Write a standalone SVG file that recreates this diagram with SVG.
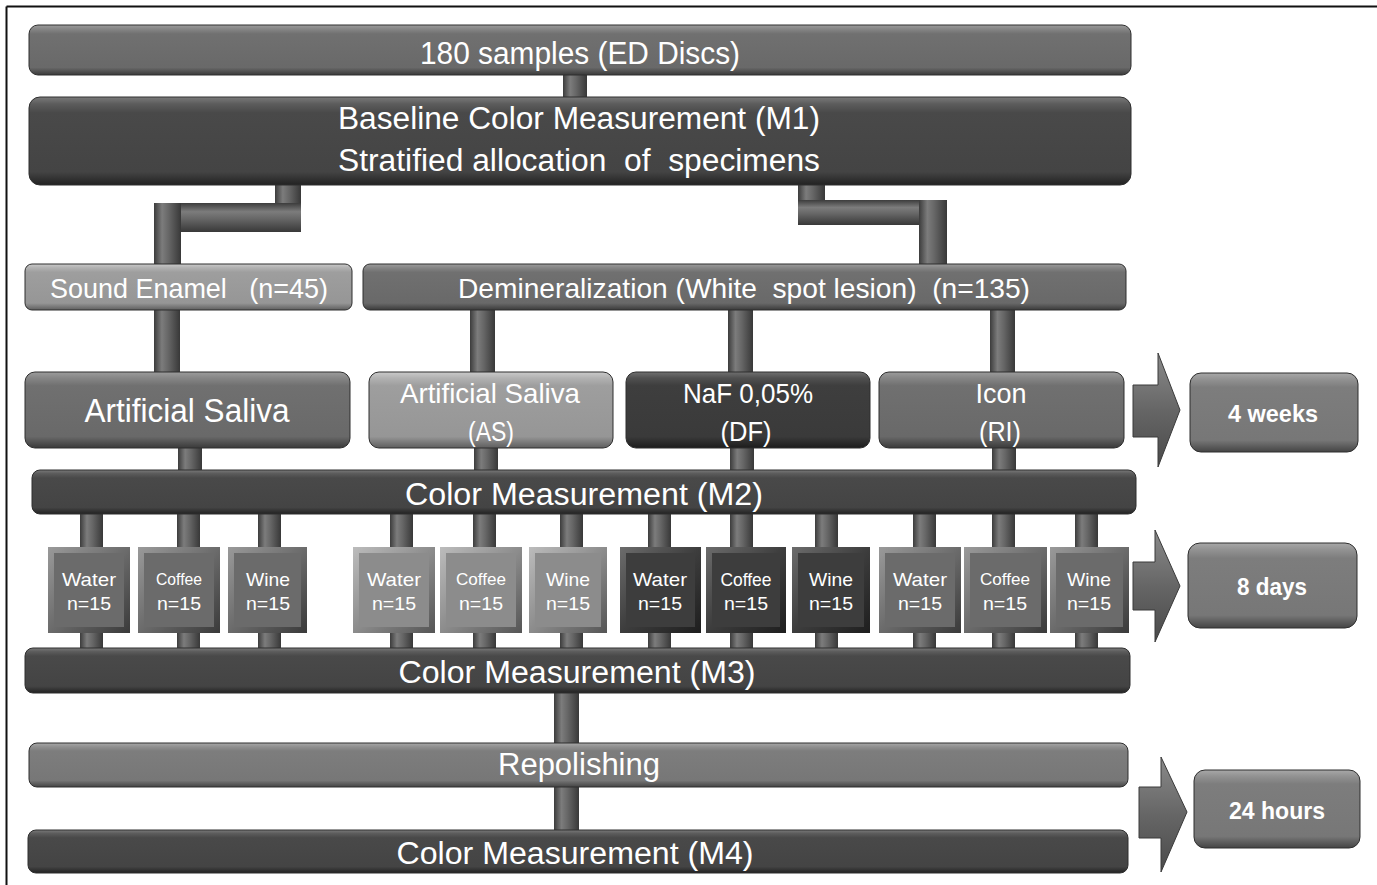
<svg xmlns="http://www.w3.org/2000/svg" width="1377" height="885" viewBox="0 0 1377 885">
<style>
text{font-family:"Liberation Sans",Arial,sans-serif;fill:#ffffff;text-anchor:middle;white-space:pre}
.big{font-size:31px}
.mid{font-size:28px}
.sm{font-size:19px}
.xs{font-size:16px}
.bold{font-size:24px;font-weight:bold}
.bar{stroke:#2e2e2e;stroke-width:1}
.pipe{fill:url(#gPipe)}
.pipeH{fill:url(#gPipeH)}
.arrow{fill:url(#gArrow);stroke:#3a3a3a;stroke-width:1}
</style>
<defs>
<linearGradient id="gMid" x1="0" y1="0" x2="0" y2="1">
<stop offset="0" stop-color="#9c9c9c"/><stop offset="0.08" stop-color="#868686"/><stop offset="0.18" stop-color="#707070"/><stop offset="0.85" stop-color="#696969"/><stop offset="1" stop-color="#3a3a3a"/>
</linearGradient>
<linearGradient id="gDark" x1="0" y1="0" x2="0" y2="1">
<stop offset="0" stop-color="#7a7a7a"/><stop offset="0.08" stop-color="#5c5c5c"/><stop offset="0.18" stop-color="#494949"/><stop offset="0.85" stop-color="#444444"/><stop offset="1" stop-color="#222222"/>
</linearGradient>
<linearGradient id="gDarker" x1="0" y1="0" x2="0" y2="1">
<stop offset="0" stop-color="#707070"/><stop offset="0.08" stop-color="#505050"/><stop offset="0.18" stop-color="#3e3e3e"/><stop offset="0.85" stop-color="#3a3a3a"/><stop offset="1" stop-color="#1c1c1c"/>
</linearGradient>
<linearGradient id="gLight" x1="0" y1="0" x2="0" y2="1">
<stop offset="0" stop-color="#cacaca"/><stop offset="0.08" stop-color="#b2b2b2"/><stop offset="0.18" stop-color="#9e9e9e"/><stop offset="0.85" stop-color="#969696"/><stop offset="1" stop-color="#5e5e5e"/>
</linearGradient>
<linearGradient id="gRep" x1="0" y1="0" x2="0" y2="1">
<stop offset="0" stop-color="#a8a8a8"/><stop offset="0.08" stop-color="#929292"/><stop offset="0.18" stop-color="#7d7d7d"/><stop offset="0.85" stop-color="#777777"/><stop offset="1" stop-color="#444444"/>
</linearGradient>
<linearGradient id="gPipe" x1="0" y1="0" x2="1" y2="0">
<stop offset="0" stop-color="#3c3c3c"/><stop offset="0.3" stop-color="#7c7c7c"/><stop offset="0.55" stop-color="#666666"/><stop offset="1" stop-color="#383838"/>
</linearGradient>
<linearGradient id="gPipeH" x1="0" y1="0" x2="0" y2="1">
<stop offset="0" stop-color="#3c3c3c"/><stop offset="0.3" stop-color="#7c7c7c"/><stop offset="0.55" stop-color="#666666"/><stop offset="1" stop-color="#383838"/>
</linearGradient>
<linearGradient id="gArrow" x1="0" y1="0" x2="0" y2="1">
<stop offset="0" stop-color="#8a8a8a"/><stop offset="0.5" stop-color="#666666"/><stop offset="1" stop-color="#4a4a4a"/>
</linearGradient>
<linearGradient id="bvMid" x1="0" y1="0" x2="1" y2="1">
<stop offset="0" stop-color="#9a9a9a"/><stop offset="0.5" stop-color="#6b6b6b"/><stop offset="1" stop-color="#3a3a3a"/>
</linearGradient>
<linearGradient id="bvLight" x1="0" y1="0" x2="1" y2="1">
<stop offset="0" stop-color="#bcbcbc"/><stop offset="0.5" stop-color="#8c8c8c"/><stop offset="1" stop-color="#555555"/>
</linearGradient>
<linearGradient id="bvDark" x1="0" y1="0" x2="1" y2="1">
<stop offset="0" stop-color="#6c6c6c"/><stop offset="0.5" stop-color="#3d3d3d"/><stop offset="1" stop-color="#1e1e1e"/>
</linearGradient>
</defs>
<rect width="1377" height="885" fill="#ffffff"/>
<line x1="6.5" y1="6.5" x2="1377" y2="6.5" stroke="#111" stroke-width="2"/>
<line x1="6.5" y1="6.5" x2="6.5" y2="885" stroke="#111" stroke-width="2"/>

<g id="connectors">
<rect class="pipe" x="563" y="74" width="24" height="25"/>
<rect class="pipe" x="275" y="184" width="26" height="48"/>
<rect class="pipeH" x="154" y="203" width="147" height="29"/>
<rect class="pipe" x="154" y="203" width="27" height="62"/>
<rect class="pipe" x="798" y="184" width="27" height="41"/>
<rect class="pipeH" x="798" y="200" width="149" height="25"/>
<rect class="pipe" x="919" y="200" width="28" height="65"/>
<rect class="pipe" x="154" y="309" width="26" height="64"/>
<rect class="pipe" x="470" y="309" width="25" height="64"/>
<rect class="pipe" x="728" y="309" width="25" height="64"/>
<rect class="pipe" x="990" y="309" width="25" height="64"/>
<rect class="pipe" x="178" y="447" width="24" height="24"/>
<rect class="pipe" x="474" y="447" width="24" height="24"/>
<rect class="pipe" x="730" y="447" width="24" height="24"/>
<rect class="pipe" x="992" y="447" width="24" height="24"/>
<rect class="pipe" x="80" y="513" width="23" height="136"/>
<rect class="pipe" x="177" y="513" width="23" height="136"/>
<rect class="pipe" x="258" y="513" width="23" height="136"/>
<rect class="pipe" x="390" y="513" width="23" height="136"/>
<rect class="pipe" x="473" y="513" width="23" height="136"/>
<rect class="pipe" x="560" y="513" width="23" height="136"/>
<rect class="pipe" x="648" y="513" width="23" height="136"/>
<rect class="pipe" x="730" y="513" width="23" height="136"/>
<rect class="pipe" x="815" y="513" width="23" height="136"/>
<rect class="pipe" x="913" y="513" width="23" height="136"/>
<rect class="pipe" x="992" y="513" width="23" height="136"/>
<rect class="pipe" x="1075" y="513" width="23" height="136"/>
<rect class="pipe" x="554" y="692" width="25" height="52"/>
<rect class="pipe" x="554" y="786" width="25" height="45"/>
<polygon class="arrow" points="1133,385 1158,385 1158,353 1180,410 1158,467 1158,437 1133,437"/>
<polygon class="arrow" points="1133,562 1155,562 1155,530 1180,586 1155,642 1155,610 1133,610"/>
<polygon class="arrow" points="1139,787 1161,787 1161,757 1187,812 1161,872 1161,838 1139,838"/>
</g>

<g id="samples">
<rect class="bar" x="29" y="25" width="1102" height="50" rx="9" fill="url(#gMid)"/>
<text class="big" x="580" y="64" textLength="320" lengthAdjust="spacingAndGlyphs">180 samples (ED Discs)</text>
</g>
<g id="baseline">
<rect class="bar" x="29" y="97" width="1102" height="88" rx="11" fill="url(#gDark)"/>
<text class="big" x="579" y="129" textLength="482" lengthAdjust="spacingAndGlyphs">Baseline Color Measurement (M1)</text>
<text class="big" x="579" y="171" textLength="482" lengthAdjust="spacingAndGlyphs">Stratified allocation  of  specimens</text>
</g>
<g id="sound-enamel">
<rect class="bar" x="25" y="264" width="327" height="46" rx="7" fill="url(#gLight)"/>
<text class="mid" x="189" y="298" textLength="278" lengthAdjust="spacingAndGlyphs">Sound Enamel   (n=45)</text>
</g>
<g id="demineralization">
<rect class="bar" x="363" y="264" width="763" height="46" rx="7" fill="url(#gMid)"/>
<text class="mid" x="744" y="298" textLength="572" lengthAdjust="spacingAndGlyphs">Demineralization (White  spot lesion)  (n=135)</text>
</g>
<g id="artificial-saliva-se">
<rect class="bar" x="25" y="372" width="325" height="76" rx="10" fill="url(#gMid)"/>
<text x="187" y="422" style="font-size:33px" textLength="205" lengthAdjust="spacingAndGlyphs">Artificial Saliva</text>
</g>
<g id="artificial-saliva-as">
<rect class="bar" x="369" y="372" width="244" height="76" rx="10" fill="url(#gLight)"/>
<text class="mid" x="490" y="403" textLength="180" lengthAdjust="spacingAndGlyphs">Artificial Saliva</text>
<text class="mid" x="491" y="441" textLength="46" lengthAdjust="spacingAndGlyphs">(AS)</text>
</g>
<g id="naf-df">
<rect class="bar" x="626" y="372" width="244" height="76" rx="10" fill="url(#gDarker)"/>
<text class="mid" x="748" y="403" textLength="130" lengthAdjust="spacingAndGlyphs">NaF 0,05%</text>
<text class="mid" x="746" y="441" textLength="51" lengthAdjust="spacingAndGlyphs">(DF)</text>
</g>
<g id="icon-ri">
<rect class="bar" x="879" y="372" width="245" height="76" rx="10" fill="url(#gMid)"/>
<text class="mid" x="1001" y="403" textLength="51" lengthAdjust="spacingAndGlyphs">Icon</text>
<text class="mid" x="1000" y="441" textLength="42" lengthAdjust="spacingAndGlyphs">(RI)</text>
</g>
<g id="weeks4">
<rect class="bar" x="1190" y="373" width="168" height="79" rx="11" fill="url(#gRep)"/>
<text class="bold" x="1273" y="422" textLength="90" lengthAdjust="spacingAndGlyphs">4 weeks</text>
</g>
<g id="m2">
<rect class="bar" x="32" y="470" width="1104" height="44" rx="8" fill="url(#gDark)"/>
<text class="big" x="584" y="505" textLength="358" lengthAdjust="spacingAndGlyphs">Color Measurement (M2)</text>
</g>

<g id="se-water"><rect x="48" y="547" width="82" height="86" fill="url(#bvMid)"/><rect x="54" y="553" width="70" height="74" fill="#6b6b6b"/>
<text class="sm" x="89" y="586" textLength="54" lengthAdjust="spacingAndGlyphs">Water</text><text class="sm" x="89" y="610" textLength="44" lengthAdjust="spacingAndGlyphs">n=15</text></g>
<g id="se-coffee"><rect x="138" y="547" width="82" height="86" fill="url(#bvMid)"/><rect x="144" y="553" width="70" height="74" fill="#6b6b6b"/>
<text class="xs" x="179" y="585" textLength="46" lengthAdjust="spacingAndGlyphs">Coffee</text><text class="sm" x="179" y="610" textLength="44" lengthAdjust="spacingAndGlyphs">n=15</text></g>
<g id="se-wine"><rect x="228" y="547" width="79" height="86" fill="url(#bvMid)"/><rect x="234" y="553" width="67" height="74" fill="#6b6b6b"/>
<text class="sm" x="268" y="586" textLength="44" lengthAdjust="spacingAndGlyphs">Wine</text><text class="sm" x="268" y="610" textLength="44" lengthAdjust="spacingAndGlyphs">n=15</text></g>

<g id="as-water"><rect x="353" y="547" width="82" height="86" fill="url(#bvLight)"/><rect x="359" y="553" width="70" height="74" fill="#8c8c8c"/>
<text class="sm" x="394" y="586" textLength="54" lengthAdjust="spacingAndGlyphs">Water</text><text class="sm" x="394" y="610" textLength="44" lengthAdjust="spacingAndGlyphs">n=15</text></g>
<g id="as-coffee"><rect x="440" y="547" width="82" height="86" fill="url(#bvLight)"/><rect x="446" y="553" width="70" height="74" fill="#8c8c8c"/>
<text class="xs" x="481" y="585" textLength="50" lengthAdjust="spacingAndGlyphs">Coffee</text><text class="sm" x="481" y="610" textLength="44" lengthAdjust="spacingAndGlyphs">n=15</text></g>
<g id="as-wine"><rect x="529" y="547" width="78" height="86" fill="url(#bvLight)"/><rect x="535" y="553" width="66" height="74" fill="#8c8c8c"/>
<text class="sm" x="568" y="586" textLength="44" lengthAdjust="spacingAndGlyphs">Wine</text><text class="sm" x="568" y="610" textLength="44" lengthAdjust="spacingAndGlyphs">n=15</text></g>

<g id="df-water"><rect x="620" y="547" width="81" height="86" fill="url(#bvDark)"/><rect x="626" y="553" width="69" height="74" fill="#3d3d3d"/>
<text class="sm" x="660" y="586" textLength="54" lengthAdjust="spacingAndGlyphs">Water</text><text class="sm" x="660" y="610" textLength="44" lengthAdjust="spacingAndGlyphs">n=15</text></g>
<g id="df-coffee"><rect x="706" y="547" width="80" height="86" fill="url(#bvDark)"/><rect x="712" y="553" width="68" height="74" fill="#3d3d3d"/>
<text class="sm" x="746" y="586" textLength="51" lengthAdjust="spacingAndGlyphs">Coffee</text><text class="sm" x="746" y="610" textLength="44" lengthAdjust="spacingAndGlyphs">n=15</text></g>
<g id="df-wine"><rect x="792" y="547" width="78" height="86" fill="url(#bvDark)"/><rect x="798" y="553" width="66" height="74" fill="#3d3d3d"/>
<text class="sm" x="831" y="586" textLength="44" lengthAdjust="spacingAndGlyphs">Wine</text><text class="sm" x="831" y="610" textLength="44" lengthAdjust="spacingAndGlyphs">n=15</text></g>

<g id="ri-water"><rect x="879" y="547" width="82" height="86" fill="url(#bvMid)"/><rect x="885" y="553" width="70" height="74" fill="#6b6b6b"/>
<text class="sm" x="920" y="586" textLength="54" lengthAdjust="spacingAndGlyphs">Water</text><text class="sm" x="920" y="610" textLength="44" lengthAdjust="spacingAndGlyphs">n=15</text></g>
<g id="ri-coffee"><rect x="964" y="547" width="83" height="86" fill="url(#bvMid)"/><rect x="970" y="553" width="71" height="74" fill="#6b6b6b"/>
<text class="xs" x="1005" y="585" textLength="50" lengthAdjust="spacingAndGlyphs">Coffee</text><text class="sm" x="1005" y="610" textLength="44" lengthAdjust="spacingAndGlyphs">n=15</text></g>
<g id="ri-wine"><rect x="1050" y="547" width="79" height="86" fill="url(#bvMid)"/><rect x="1056" y="553" width="67" height="74" fill="#6b6b6b"/>
<text class="sm" x="1089" y="586" textLength="44" lengthAdjust="spacingAndGlyphs">Wine</text><text class="sm" x="1089" y="610" textLength="44" lengthAdjust="spacingAndGlyphs">n=15</text></g>

<g id="days8">
<rect class="bar" x="1188" y="543" width="169" height="85" rx="12" fill="url(#gRep)"/>
<text class="bold" x="1272" y="595" textLength="70" lengthAdjust="spacingAndGlyphs">8 days</text>
</g>
<g id="m3">
<rect class="bar" x="25" y="648" width="1105" height="45" rx="8" fill="url(#gDark)"/>
<text class="big" x="577" y="683" textLength="357" lengthAdjust="spacingAndGlyphs">Color Measurement (M3)</text>
</g>
<g id="repolishing">
<rect class="bar" x="29" y="743" width="1099" height="44" rx="8" fill="url(#gRep)"/>
<text class="big" x="579" y="775" textLength="162" lengthAdjust="spacingAndGlyphs">Repolishing</text>
</g>
<g id="m4">
<rect class="bar" x="28" y="830" width="1100" height="43" rx="8" fill="url(#gDark)"/>
<text class="big" x="575" y="864" textLength="357" lengthAdjust="spacingAndGlyphs">Color Measurement (M4)</text>
</g>
<g id="hours24">
<rect class="bar" x="1194" y="770" width="166" height="78" rx="11" fill="url(#gRep)"/>
<text class="bold" x="1277" y="819" textLength="96" lengthAdjust="spacingAndGlyphs">24 hours</text>
</g>
</svg>
